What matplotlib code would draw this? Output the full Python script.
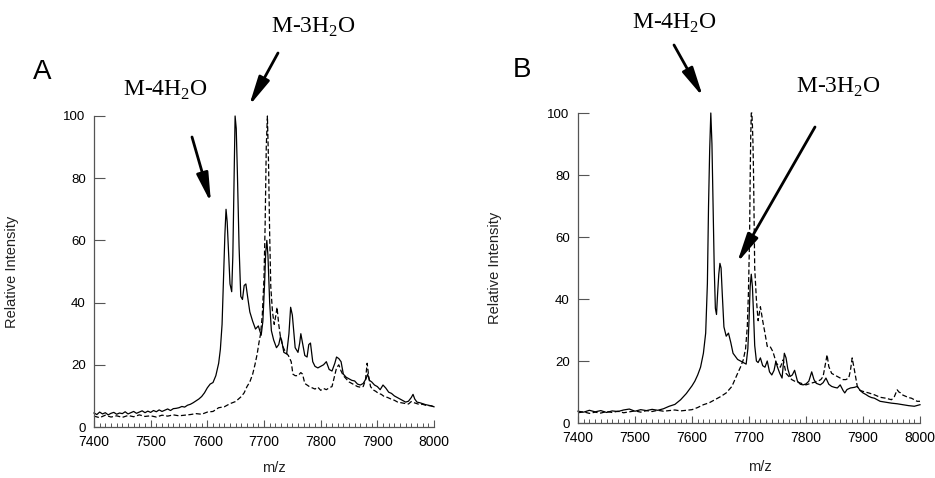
import matplotlib
matplotlib.use("Agg")
import matplotlib.pyplot as plt
from matplotlib.patches import FancyArrowPatch
from matplotlib.ticker import MultipleLocator

plt.rcParams["font.family"] = ["Liberation Sans", "DejaVu Sans"]
plt.rcParams["mathtext.fontset"] = "custom"
plt.rcParams["mathtext.rm"] = "Liberation Serif"

# ---- panel A: spectra (m/z, relative intensity) ----
a_solid_mz = [
    7400, 7405, 7410, 7415, 7420, 7425, 7430, 7435, 7440, 7445,
    7450, 7455, 7460, 7465, 7470, 7475, 7480, 7485, 7490, 7495,
    7500, 7505, 7510, 7515, 7520, 7525, 7530, 7535, 7540, 7545,
    7550, 7555, 7560, 7565, 7570, 7575, 7580, 7585, 7590, 7595,
    7600, 7605, 7610, 7615, 7620, 7623, 7626, 7629, 7631, 7633,
    7635, 7637, 7640, 7643, 7645, 7647, 7649, 7651, 7653, 7656,
    7659, 7662, 7665, 7668, 7671, 7675, 7680, 7685, 7690, 7695,
    7698, 7701, 7703, 7705, 7707, 7710, 7713, 7717, 7722, 7726,
    7729, 7731, 7735, 7740, 7744, 7747, 7750, 7755, 7760, 7763,
    7765, 7768, 7772, 7776, 7779, 7782, 7786, 7790, 7795, 7800,
    7805, 7810, 7815, 7820, 7825, 7828, 7832, 7836, 7840, 7845,
    7850, 7855, 7860, 7865, 7870, 7875, 7880, 7883, 7886, 7890,
    7895, 7900, 7905, 7910, 7915, 7920, 7925, 7930, 7935, 7940,
    7945, 7950, 7955, 7960, 7963, 7966, 7970, 7975, 7980, 7985,
    7990, 7995, 8000,
]
a_solid_int = [
    4.5, 4.0, 4.8, 4.2, 4.6, 3.9, 4.4, 4.7, 4.1, 4.5,
    4.3, 4.9, 4.2, 4.6, 5.0, 4.4, 4.8, 5.2, 4.6, 5.1,
    4.7, 5.3, 4.9, 5.5, 5.0, 5.4, 5.8, 5.3, 5.9, 6.0,
    6.2, 6.6, 6.4, 7.0, 7.3, 7.8, 8.4, 9.0, 9.8, 11.0,
    12.6, 13.8, 14.3, 16.5, 20.5, 25.0, 33.0, 50.0, 62.0, 70.0,
    66.0, 58.0, 46.0, 43.5, 55.0, 78.0, 100.0, 96.0, 82.0, 58.0,
    42.0, 41.0, 45.5, 46.0, 42.0, 37.0, 34.0, 31.5, 32.5, 29.5,
    34.0, 46.0, 56.0, 60.0, 55.0, 40.0, 31.0, 28.0, 25.5, 26.5,
    29.0, 28.0, 24.0, 23.5, 30.0, 38.5, 36.0, 25.5, 24.0, 27.0,
    30.0, 27.0, 23.0, 22.5, 26.5, 27.0, 21.0, 19.5, 19.0, 19.5,
    20.0, 21.0, 18.5, 18.0, 20.5, 22.5, 22.0, 21.0, 17.0, 16.0,
    15.5, 15.0, 14.8, 13.8, 13.5, 14.0, 15.5, 17.0, 15.0, 14.5,
    13.5, 13.0, 12.0, 13.5, 12.5, 11.2, 10.8, 10.0, 9.5, 9.0,
    8.5, 8.0, 8.3, 9.5, 10.5, 9.0, 8.0, 7.8, 7.5, 7.2,
    7.0, 6.8, 6.5,
]
a_dash_mz = [
    7400, 7410, 7420, 7430, 7440, 7450, 7460, 7470, 7480, 7490,
    7500, 7510, 7520, 7530, 7540, 7550,
    7560, 7570, 7580, 7590, 7600, 7610, 7620, 7630, 7640, 7650,
    7660, 7665, 7670, 7675, 7680, 7684, 7688, 7691, 7694, 7697,
    7700, 7702, 7704, 7706, 7708, 7710, 7712, 7715, 7718, 7721,
    7723, 7726, 7729, 7733, 7738, 7743, 7748, 7751, 7755, 7760,
    7765, 7768, 7772, 7776, 7780, 7785, 7790, 7795, 7800, 7805,
    7810, 7815, 7820, 7824, 7828, 7832, 7836, 7840, 7845, 7850,
    7855, 7860, 7865, 7870, 7875, 7879, 7882, 7885, 7888, 7892,
    7897, 7902, 7907, 7912, 7918, 7924, 7930, 7936, 7942, 7948,
    7955, 7960, 7965, 7970, 7975, 7980, 7985, 7990, 7995, 8000,
]
a_dash_int = [
    3.5, 3.0, 3.8, 3.2, 3.6, 3.1, 3.7, 3.3, 3.9, 3.4,
    3.6, 3.2, 3.8, 3.5, 3.9, 3.6,
    3.8, 4.0, 4.3, 4.1, 4.8, 5.0, 6.2, 6.5, 7.5, 8.2,
    9.8, 11.0, 13.0, 14.5, 17.0, 20.0, 23.5, 27.0, 30.0, 36.0,
    48.0, 65.0, 90.0, 100.0, 85.0, 62.0, 45.0, 37.0, 33.0, 36.0,
    38.5, 33.0, 29.0, 26.0, 24.0, 23.0, 21.0, 17.0, 16.5, 16.5,
    17.5, 17.0, 14.0, 13.5, 13.0, 12.6, 12.2, 12.8, 11.8, 12.4,
    12.0, 12.6, 13.0, 16.0, 19.0, 20.0, 18.0, 16.5, 15.5, 14.5,
    14.0, 13.5, 13.0, 12.8, 13.0, 15.0, 20.5, 16.0, 13.0, 12.0,
    11.5, 10.8, 10.5, 9.8, 9.5, 9.0, 8.6, 8.0, 7.8, 7.6,
    7.4, 8.2, 7.8, 7.5, 7.2, 7.3, 7.0, 6.9, 6.8, 6.5,
]

# ---- panel B ----
b_solid_mz = [
    7400, 7410, 7420, 7430, 7440, 7450, 7460, 7470, 7480, 7490,
    7500, 7510, 7520, 7530, 7540, 7550,
    7560, 7570, 7580, 7590, 7600, 7605, 7610, 7615, 7620, 7624,
    7627, 7629, 7631, 7633, 7635, 7637, 7639, 7641, 7643, 7645,
    7647, 7649, 7651, 7653, 7656, 7660, 7664, 7668, 7672, 7676,
    7680, 7685, 7690, 7695, 7698, 7700, 7702, 7704, 7706, 7708,
    7710, 7713, 7716, 7720, 7724, 7728, 7732, 7736, 7740, 7744,
    7747, 7750, 7754, 7758, 7762, 7765, 7768, 7772, 7776, 7780,
    7785, 7790, 7795, 7800, 7805, 7810, 7814, 7818, 7825, 7830,
    7835, 7840, 7845, 7850, 7855, 7860, 7865, 7868, 7872, 7878,
    7885, 7890, 7895, 7900, 7905, 7910, 7915, 7920, 7930, 7940,
    7950, 7960, 7970, 7980, 7990, 8000,
]
b_solid_int = [
    3.8, 3.5, 4.1, 3.6, 4.0, 3.4, 3.9, 3.7, 4.2, 4.5,
    3.8, 4.3, 4.0, 4.4, 4.1, 4.6,
    5.4, 6.0, 7.5, 9.5, 12.0, 13.5, 15.5, 18.0, 22.5, 29.0,
    45.0, 70.0, 88.0, 100.0, 90.0, 70.0, 50.0, 37.0, 35.0, 42.0,
    48.0, 51.5, 50.0, 42.0, 31.0, 28.0, 29.0, 26.0, 22.5, 21.5,
    20.5, 20.0, 19.5, 19.0, 24.0, 33.0, 44.0, 48.0, 44.0, 35.0,
    25.0, 20.0, 19.5, 21.0, 18.5, 18.0, 20.0, 16.5, 15.5, 17.0,
    19.8, 18.0, 16.0, 14.5, 22.5, 21.0, 17.5, 15.0, 15.5, 17.0,
    13.5, 12.5, 12.3, 12.6, 13.5, 16.5, 14.0, 12.8, 12.3, 13.0,
    14.5, 12.5, 11.8, 11.5, 11.3, 12.3, 10.5, 9.7, 10.8, 11.3,
    11.5, 11.8, 10.5, 9.7, 9.2, 8.6, 8.2, 8.0, 7.0, 6.7,
    6.4, 6.2, 5.9, 5.6, 5.4, 5.9,
]
b_dash_mz = [
    7400, 7410, 7420, 7430, 7440, 7450, 7460, 7470, 7480, 7490,
    7500, 7510, 7520, 7530, 7540, 7550,
    7560, 7570, 7580, 7590, 7600, 7610, 7620, 7630, 7640, 7650,
    7660, 7670, 7680, 7685, 7690, 7694, 7697, 7699, 7701, 7702,
    7703, 7704, 7705, 7706, 7707, 7708, 7710, 7713, 7716, 7720,
    7724, 7728, 7732, 7737, 7742, 7748, 7755, 7760, 7765, 7770,
    7775, 7780, 7790, 7800, 7810, 7820, 7826, 7830, 7834, 7837,
    7840, 7845, 7850, 7855, 7860, 7865, 7870, 7875, 7878, 7881,
    7885, 7890, 7895, 7900, 7910, 7920, 7930, 7940, 7950, 7955,
    7960, 7963, 7966, 7970, 7975, 7980, 7985, 7990, 7995, 8000,
]
b_dash_int = [
    3.3, 3.6, 3.1, 3.5, 3.2, 3.7, 3.4, 3.8, 3.3, 3.6,
    3.9, 3.5, 4.0, 3.7, 4.1, 3.8,
    4.0, 4.2, 3.9, 4.1, 4.3, 5.0, 5.9, 6.5, 7.5, 8.5,
    9.7, 11.8, 16.0, 18.0, 20.4, 24.0, 31.0, 42.0, 60.0, 78.0,
    92.0, 100.0, 100.0, 96.0, 90.0, 80.0, 50.0, 39.7, 33.0, 37.5,
    33.0, 29.0, 24.7, 24.7, 23.0, 19.3, 18.0, 20.4, 16.0, 15.0,
    14.0, 13.5, 12.9, 12.3, 12.9, 13.4, 14.0, 15.0, 19.0, 22.0,
    18.2, 16.0, 15.5, 15.0, 14.5, 14.0, 14.0, 14.5, 17.0, 21.0,
    17.0, 11.8, 10.5, 10.2, 9.7, 9.1, 8.3, 8.0, 7.5, 8.5,
    10.7, 10.0, 9.7, 9.0, 8.6, 8.2, 8.0, 7.5, 7.0, 7.0,
]

panel_letters = ["A", "B"]
label_3 = r"M-3H$_\mathrm{2}$O"
label_4 = r"M-4H$_\mathrm{2}$O"

W, H = 935, 478


def fx(px):
    return px / W


def fy(py):
    return 1 - py / H


fig = plt.figure(figsize=(W / 100, H / 100), dpi=100)
axA = fig.add_axes([fx(94), fy(427), fx(434) - fx(94), fy(116) - fy(427)])
axB = fig.add_axes([fx(578), fy(423), fx(920) - fx(578), fy(113) - fy(423)])

axA.plot(a_solid_mz, a_solid_int, color="black", lw=0.9)
axA.plot(a_dash_mz, a_dash_int, color="black", lw=0.9, dashes=(4, 2))
axB.plot(b_solid_mz, b_solid_int, color="black", lw=0.9)
axB.plot(b_dash_mz, b_dash_int, color="black", lw=0.9, dashes=(4, 2))

for ax in (axA, axB):
    ax.set_xlim(7400, 8000)
    ax.set_ylim(0, 100)
    ax.xaxis.set_major_locator(MultipleLocator(100))
    ax.xaxis.set_minor_locator(MultipleLocator(10))
    ax.yaxis.set_major_locator(MultipleLocator(20))
    for s in ("top", "right"):
        ax.spines[s].set_visible(False)
    for s in ("left", "bottom"):
        ax.spines[s].set_color("#555555")
        ax.spines[s].set_linewidth(0.9)
    ax.tick_params(axis="x", which="major", direction="in", length=5,
                   width=0.8, color="#555555", labelsize=10, pad=6)
    ax.tick_params(axis="x", which="minor", direction="in", length=3,
                   width=0.7, color="#555555")
    ax.tick_params(axis="y", which="major", direction="in", length=8,
                   width=0.8, color="#555555", labelsize=9.5, pad=6)
    ax.set_ylabel("Relative Intensity", fontsize=10.5, color="#222222")
    ax.set_xlabel("m/z", fontsize=10.5, color="#222222")
    for ln in ax.get_lines():
        ln.set_clip_on(False)

axA.yaxis.set_label_coords(-0.22, 0.5)
axB.yaxis.set_label_coords(-0.222, 0.5)
axA.xaxis.set_label_coords(0.53, -0.108)
axB.xaxis.set_label_coords(0.532, -0.12)

# panel letters
fig.text(fx(42), fy(72), panel_letters[0], fontsize=20, ha="center", va="center")
fig.text(fx(522), fy(70), panel_letters[1], fontsize=20, ha="center", va="center")

arrow = dict(arrowstyle="-|>,head_length=1.1,head_width=0.22",
             color="black", lw=2.0, mutation_scale=16, shrinkA=0, shrinkB=0)
txt = dict(fontsize=17, family="Liberation Serif", ha="center", va="center")

# panel A annotations
fig.text(fx(314), fy(27), label_3, **txt)
fig.text(fx(166), fy(90), label_4, **txt)
fig.add_artist(FancyArrowPatch(
    (fx(278), fy(53)), (fx(249), fy(106)), transform=fig.transFigure, **arrow))
fig.add_artist(FancyArrowPatch(
    (fx(192), fy(137)), (fx(211), fy(203)), transform=fig.transFigure, **arrow))

# panel B annotations
fig.text(fx(675), fy(23), label_4, **txt)
fig.text(fx(839), fy(87), label_3, **txt)
fig.add_artist(FancyArrowPatch(
    (fx(674), fy(45)), (fx(703), fy(97)), transform=fig.transFigure, **arrow))
fig.add_artist(FancyArrowPatch(
    (fx(815), fy(127)), (fx(737), fy(263)), transform=fig.transFigure, **arrow))

fig.savefig("out.png", dpi=100)
plt.close(fig)
